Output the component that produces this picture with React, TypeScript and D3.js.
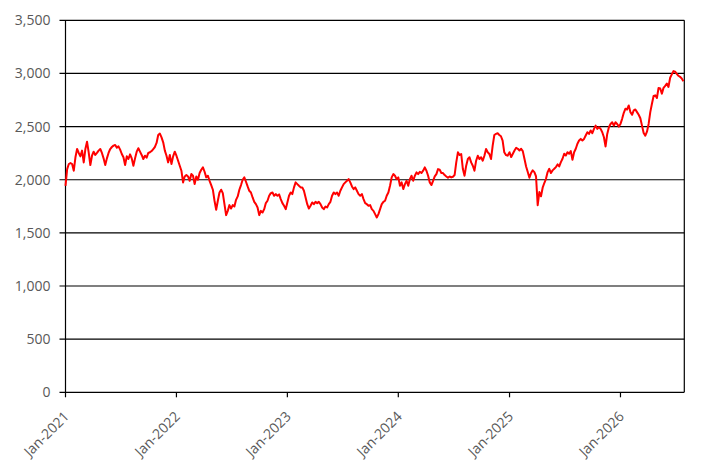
import React, { useEffect, useRef } from 'react';
import * as d3 from 'd3';

// values, evenly spaced through each year
const values2021 = [
  1943, 2100, 2148, 2157, 2148, 2085, 2211, 2289, 2252, 2220, 2274, 2163, 2289, 2358, 2258, 2138,
  2226, 2264, 2233, 2252, 2274, 2289, 2252, 2201, 2138, 2201, 2252, 2289, 2308, 2321, 2327, 2302,
  2314, 2283, 2242, 2211, 2138, 2220, 2195, 2239, 2201, 2132, 2201, 2264, 2296, 2264, 2233, 2195,
  2226, 2208, 2252, 2258, 2270, 2289, 2308, 2346, 2421, 2434, 2399, 2352, 2274, 2226, 2163, 2233,
  2148, 2220, 2264,
];
const values2022 = [
  2226, 2179, 2132, 2085, 1975, 2031, 2044, 2031, 1990, 2053, 2038, 1959, 2031, 2000, 2063, 2094,
  2116, 2075, 2022, 2038, 1990, 1950, 1906, 1802, 1717, 1802, 1880, 1906, 1874, 1770, 1667, 1707,
  1761, 1729, 1761, 1748, 1811, 1843, 1906, 1950, 2000, 2022, 1981, 1937, 1896, 1880, 1833, 1792,
  1770, 1739, 1667, 1707, 1692, 1723, 1780, 1802, 1849, 1874, 1880, 1849, 1865, 1849, 1862, 1818,
  1780, 1755, 1723,
];
const values2023 = [
  1786, 1849, 1880, 1865, 1928, 1975, 1959, 1943, 1928, 1928, 1896, 1833, 1770, 1729, 1755, 1786,
  1770, 1792, 1780, 1792, 1770, 1739, 1723, 1748, 1739, 1770, 1792, 1849, 1880, 1865, 1880, 1849,
  1896, 1928, 1959, 1975, 1990, 2006, 1975, 1937, 1912, 1928, 1896, 1865, 1849, 1865, 1818, 1780,
  1770, 1755, 1761, 1723, 1707, 1676, 1645, 1676, 1723, 1770, 1792, 1802, 1849, 1880, 1943, 2022,
  2053, 2038, 2006,
];
const values2024 = [
  2022, 1943, 1975, 1912, 1959, 1990, 1943, 2006, 2038, 1990, 2038, 2069, 2053, 2075, 2063, 2085,
  2116, 2085, 2038, 1975, 1950, 1990, 2031, 2053, 2100, 2094, 2063, 2063, 2044, 2031, 2019, 2031,
  2022, 2028, 2044, 2163, 2258, 2233, 2242, 2100, 2038, 2132, 2195, 2211, 2163, 2132, 2085, 2179,
  2226, 2195, 2211, 2179, 2226, 2289, 2258, 2242, 2195, 2321, 2421, 2431, 2437, 2421, 2409, 2368,
  2258, 2233, 2226,
];
const values2025 = [
  2259, 2213, 2244, 2275, 2300, 2291, 2275, 2291, 2269, 2197, 2125, 2072, 2019, 2063, 2088, 2072,
  2031, 1760, 1884, 1844, 1925, 1969, 2009, 2072, 2103, 2063, 2088, 2103, 2119, 2144, 2125, 2166,
  2197, 2244, 2228, 2259, 2244, 2269, 2188, 2259, 2291, 2338, 2369, 2384, 2369, 2384, 2416, 2447,
  2431, 2463, 2438, 2478, 2509, 2478, 2494, 2478, 2447, 2400, 2313, 2431, 2494, 2525, 2541, 2509,
  2541, 2525, 2500,
];
const values2026 = [
  2525, 2573, 2630, 2668, 2661, 2699, 2636, 2611, 2652, 2661, 2636, 2611, 2579, 2509, 2440, 2414,
  2452, 2525, 2636, 2715, 2788, 2794, 2769, 2864, 2858, 2810, 2864, 2883, 2905, 2873, 2959, 2991,
  3022, 3016, 2997, 2978, 2968, 2953, 2927,
];

const years = [2021, 2022, 2023, 2024, 2025, 2026];
const yearValues = [values2021, values2022, values2023, values2024, values2025, values2026];
const yTicks = [0, 500, 1000, 1500, 2000, 2500, 3000, 3500];
const xTickLabels = ['Jan-2021', 'Jan-2022', 'Jan-2023', 'Jan-2024', 'Jan-2025', 'Jan-2026'];

const SAMPLE_DAYS = 365 / 67;
const DAY_MS = 86400000;

interface Point {
  date: Date;
  value: number;
}

const series: Point[] = years.flatMap((yr, k) =>
  yearValues[k].map((v, i) => ({
    date: new Date(Date.UTC(yr, 0, 1) + i * SAMPLE_DAYS * DAY_MS),
    value: v,
  }))
);

const WIDTH = 719;
const HEIGHT = 472;

const App: React.FC = () => {
  const svgRef = useRef<SVGSVGElement>(null);

  useEffect(() => {
    const svg = d3.select(svgRef.current);
    svg.selectAll('*').remove();

    const margin = { top: 20.3, right: 34.7, bottom: 79.7, left: 65.5 };
    const chartWidth = WIDTH - margin.left - margin.right;
    const chartHeight = HEIGHT - margin.top - margin.bottom;

    const g = svg.append('g').attr('transform', `translate(${margin.left},${margin.top})`);

    const x = d3.scaleUtc()
      .domain([new Date(Date.UTC(2021, 0, 1)), new Date(Date.UTC(2026, 6, 30))])
      .range([0, chartWidth]);

    const y = d3.scaleLinear()
      .domain([0, 3500])
      .range([chartHeight, 0]);

    const font = "'Open Sans', sans-serif";
    const labelColor = '#595959';

    // horizontal gridlines + left tick marks
    g.selectAll('.grid')
      .data(yTicks)
      .enter()
      .append('line')
      .attr('x1', -6)
      .attr('x2', chartWidth)
      .attr('y1', d => y(d))
      .attr('y2', d => y(d))
      .attr('stroke', 'black')
      .attr('stroke-width', 1.2);

    g.selectAll('.ylabel')
      .data(yTicks)
      .enter()
      .append('text')
      .attr('x', -15)
      .attr('y', d => y(d))
      .attr('dy', '0.36em')
      .attr('text-anchor', 'end')
      .attr('fill', labelColor)
      .attr('font-family', font)
      .attr('font-size', 14)
      .text(d => d3.format(',')(d));

    // left axis and right border
    g.append('line')
      .attr('x1', 0).attr('x2', 0)
      .attr('y1', 0).attr('y2', chartHeight)
      .attr('stroke', 'black').attr('stroke-width', 1.2);
    g.append('line')
      .attr('x1', chartWidth).attr('x2', chartWidth)
      .attr('y1', 0).attr('y2', chartHeight)
      .attr('stroke', 'black').attr('stroke-width', 1.2);

    // bottom ticks and rotated labels
    const tickDates = years.map(yr => new Date(Date.UTC(yr, 0, 1)));
    g.selectAll('.xtick')
      .data(tickDates)
      .enter()
      .append('line')
      .attr('x1', d => x(d))
      .attr('x2', d => x(d))
      .attr('y1', chartHeight)
      .attr('y2', chartHeight + 5)
      .attr('stroke', 'black')
      .attr('stroke-width', 1.2);

    g.selectAll('.xlabel')
      .data(tickDates)
      .enter()
      .append('text')
      .attr('transform', (d) => `translate(${x(d) + 4.5},${chartHeight + 25}) rotate(-45)`)
      .attr('text-anchor', 'end')
      .attr('fill', labelColor)
      .attr('font-family', font)
      .attr('font-size', 14)
      .text((_, i) => xTickLabels[i]);

    const line = d3.line<Point>()
      .x(d => x(d.date))
      .y(d => y(d.value));

    g.append('path')
      .datum(series)
      .attr('d', line)
      .attr('fill', 'none')
      .attr('stroke', '#ff0000')
      .attr('stroke-width', 2)
      .attr('stroke-linejoin', 'round');
  }, []);

  return (
    <div style={{ position: 'absolute', left: 0, top: 0, width: WIDTH, height: HEIGHT, background: 'white' }}>
      <svg ref={svgRef} width={WIDTH} height={HEIGHT}></svg>
    </div>
  );
};

export default App;
